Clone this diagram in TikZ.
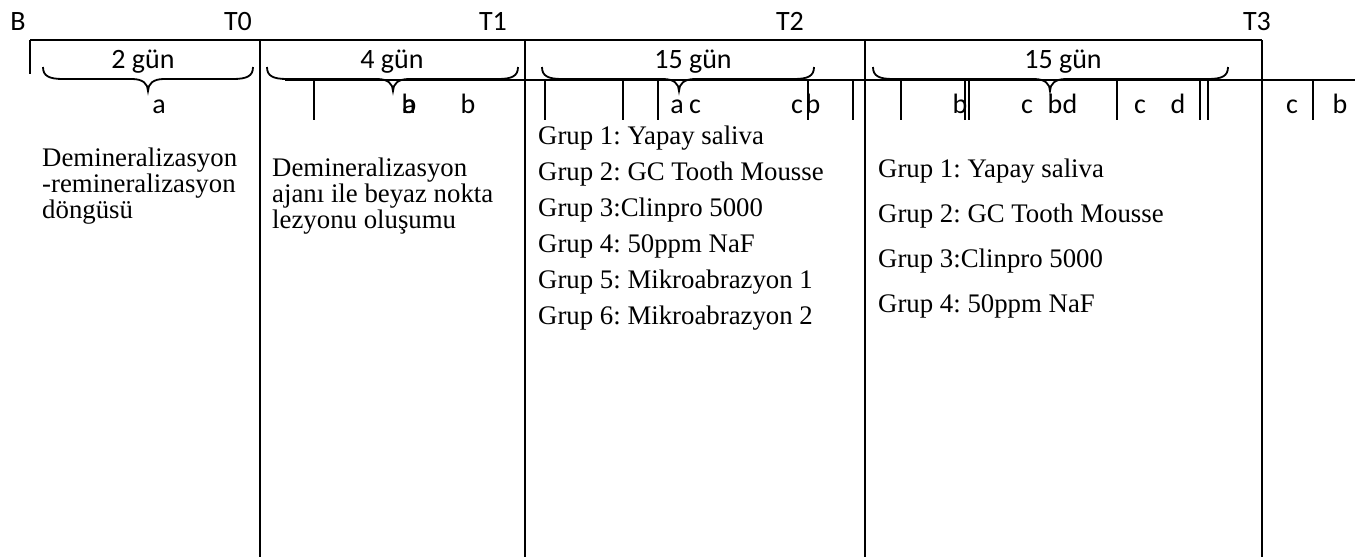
\documentclass[tikz,border=0pt]{standalone}
\usepackage{fontspec}
\setmainfont{Liberation Serif}
\newfontfamily\calibri{Carlito}
\frenchspacing
% curly brace under a duration label: left end, right end, middle point
\newcommand\gunbrace[3]{%
  \draw[bracepath] (#1,67) .. controls (#1,76) and (#1+6,79) .. (#1+20,79)
    -- (#3-16,79) .. controls (#3-5,79) and (#3,84) .. (#3,91)
    .. controls (#3,84) and (#3+5,79) .. (#3+16,79)
    -- (#2-20,79) .. controls (#2-6,79) and (#2,76) .. (#2,67);}
\begin{document}
\begin{tikzpicture}[x=1pt,y=-1pt,
  rule/.style={line width=2pt},
  tickmark/.style={line width=1.8pt},
  bracepath/.style={line width=1.8pt},
  lbl/.style={font=\calibri\fontsize{28}{32}\selectfont, inner sep=0pt, anchor=base},
  body/.style={font=\fontsize{26.8}{30}\selectfont, inner sep=0pt, anchor=base west}]
\useasboundingbox (0,0) rectangle (1355,557);

% time points
\node[lbl] (B)  at (18,30)   {B};
\node[lbl] (T0) at (238,30)  {T0};
\node[lbl] (T1) at (493,30)  {T1};
\node[lbl] (T2) at (790,30)  {T2};
\node[lbl] (T3) at (1257,30) {T3};

% frame
\draw[rule] (30,40) -- (1262,40);
\draw[rule] (30,40) -- (30,74);
\foreach \cx in {260,525,865,1262}
  \draw[rule] (\cx,40) -- (\cx,557);
\draw[rule] (285,80) -- (1355,80);

% durations
\node[lbl] (d1) at (143,68)  {2 gün};
\node[lbl] (d2) at (392,68)  {4 gün};
\node[lbl] (d3) at (693,68)  {15 gün};
\node[lbl] (d4) at (1063,68) {15 gün};
\gunbrace{43}{253}{148}
\gunbrace{267}{518}{393}
\gunbrace{542}{814}{679}
\gunbrace{873}{1228}{1050}

% sample ticks
\foreach \tx in {314,545,623,658,808,853,901,965,969,1117,1200,1208,1313}
  \draw[tickmark] (\tx,80) -- (\tx,120);

% sample letters
\node[lbl] (s1)  at (159,113)  {a};
\node[lbl] (s2)  at (409,113)  {a};
\node[lbl] (s3)  at (409,113)  {b};
\node[lbl] (s4)  at (468,113)  {b};
\node[lbl] (s5)  at (677,113)  {a};
\node[lbl] (s6)  at (695,113)  {c};
\node[lbl] (s7)  at (797,113)  {c};
\node[lbl] (s8)  at (813,113)  {b};
\node[lbl] (s9)  at (960,113)  {b};
\node[lbl] (s10) at (1027,113) {c};
\node[lbl] (s11) at (1055,113) {b};
\node[lbl] (s12) at (1070,113) {d};
\node[lbl] (s13) at (1140,113) {c};
\node[lbl] (s14) at (1178,113) {d};
\node[lbl] (s15) at (1292,113) {c};
\node[lbl] (s16) at (1340,113) {b};

% stage descriptions
\node[body] (c1a) at (42,166) {Demineralizasyon};
\node[body] (c1b) at (42,192) {-remineralizasyon};
\node[body] (c1c) at (42,218) {döngüsü};

\node[body] (c2a) at (272,176) {Demineralizasyon};
\node[body] (c2b) at (272,202) {ajanı ile beyaz nokta};
\node[body] (c2c) at (272,228) {lezyonu oluşumu};

\node[body] (g1) at (538,144) {Grup 1: Yapay saliva};
\node[body] (g2) at (538,180) {Grup 2: GC Tooth Mousse};
\node[body] (g3) at (538,216) {Grup 3:Clinpro 5000};
\node[body] (g4) at (538,252) {Grup 4: 50ppm NaF};
\node[body] (g5) at (538,288) {Grup 5: Mikroabrazyon 1};
\node[body] (g6) at (538,324) {Grup 6: Mikroabrazyon 2};

\node[body] (h1) at (878,177) {Grup 1: Yapay saliva};
\node[body] (h2) at (878,222) {Grup 2: GC Tooth Mousse};
\node[body] (h3) at (878,267) {Grup 3:Clinpro 5000};
\node[body] (h4) at (878,312) {Grup 4: 50ppm NaF};
\end{tikzpicture}
\end{document}
